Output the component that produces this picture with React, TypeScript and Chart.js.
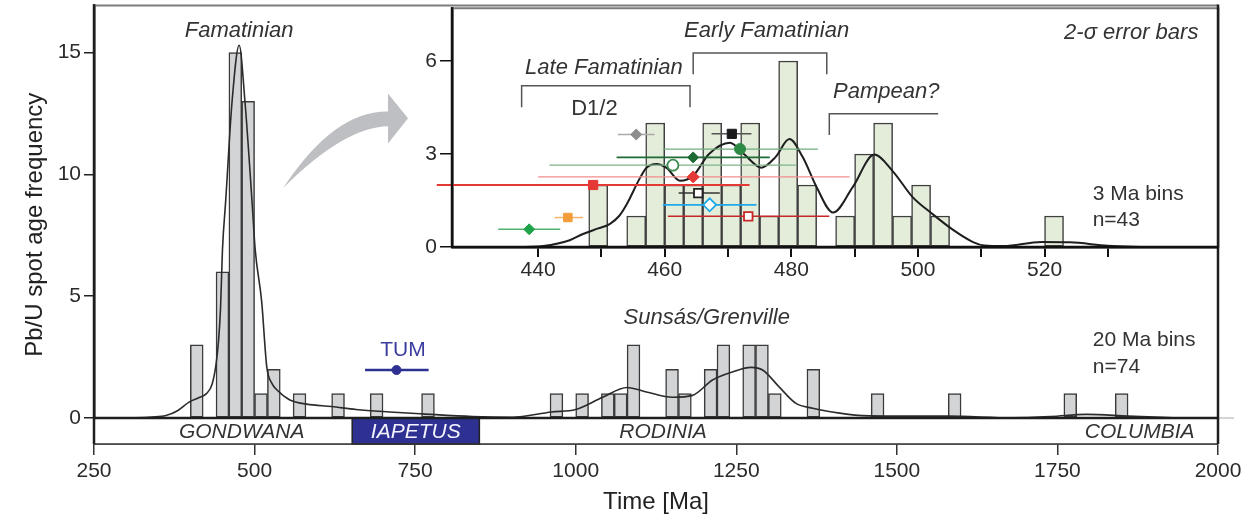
import React, { useEffect, useRef } from 'react';
import { Chart, registerables } from 'chart.js';

Chart.register(...registerables);

const W = 1253;
const H = 520;
const FONT = '"Liberation Sans", Arial, Helvetica, sans-serif';
const INK = '#2b2b2b';
const NAVY = '#2E3192';

// ---------------- Main histogram (20 Ma bins) ----------------
const mainBinStart = [400, 440, 460, 480, 500, 520, 560, 620, 680, 760, 960, 1000, 1040, 1060, 1080, 1140, 1160, 1200, 1220, 1260, 1280, 1300, 1360, 1460, 1580, 1760, 1840];
const mainCounts = [3, 6, 15, 13, 1, 2, 1, 1, 1, 1, 1, 1, 1, 1, 3, 2, 1, 2, 3, 3, 3, 1, 2, 1, 1, 1, 1];
const MAIN_BIN = 20;

const mainKdeAge = [300, 340, 362, 380, 398, 412, 425, 434, 440, 444, 447, 450, 455, 465, 476, 485, 496, 501, 511, 519, 527, 535, 555, 581, 620, 658, 710, 761, 839, 901, 962, 1000, 1042, 1080, 1110, 1151, 1182, 1213, 1245, 1273, 1291, 1317, 1343, 1369, 1411, 1447, 1500, 1580, 1680, 1740, 1795, 1860, 1940];
const mainKdeValue = [0, 0.04, 0.1, 0.3, 0.65, 0.82, 1.0, 1.4, 2.2, 3.2, 4.5, 6.9, 8.9, 13.0, 15.3, 13.0, 8.9, 6.9, 4.8, 2.1, 1.42, 1.15, 0.74, 0.57, 0.47, 0.35, 0.25, 0.17, 0.06, 0.03, 0.25, 0.35, 0.85, 1.25, 1.07, 0.85, 0.93, 1.56, 1.9, 2.08, 1.97, 1.27, 0.6, 0.4, 0.2, 0.1, 0.08, 0.08, 0.01, 0.06, 0.15, 0.08, 0];

const mainXTicks = [250, 500, 750, 1000, 1250, 1500, 1750, 2000];
const mainYTicks = [0, 5, 10, 15];

// TUM age with error
const tumAge = 721;
const tumLow = 672;
const tumHigh = 771;
const tumY = 1.97;

// Supercontinent / ocean band
const regionNames = ['GONDWANA', 'IAPETUS', 'RODINIA', 'COLUMBIA'];
const regionLabelAge = [480, 751, 1136, 1878];
const iapetusRange = [652, 850];

// Main annotations
const mainNotes = ['Famatinian', 'Sunsás/Grenville'];
const mainNoteAge = [476, 1204];
const mainNoteVal = [15.9, 4.1];
const mainBinNote = ['20 Ma bins', 'n=74'];
const mainBinNoteAge = 1805;
const mainBinNoteVal = [3.2, 2.1];

// Curved arrow (tail, upper ctrl, shaft-upper, head-top, tip, head-bottom, shaft-lower, lower ctrl)
const arrowAge = [544.3, 623.7, 707.7, 707.7, 738.9, 707.7, 707.7, 639.2];
const arrowVal = [9.43, 12.62, 12.58, 13.32, 12.3, 11.27, 11.97, 11.93];

// ---------------- Inset histogram (3 Ma bins) ----------------
const insetBinStart = [448, 454, 457, 460, 463, 466, 469, 472, 475, 478, 481, 487, 490, 493, 496, 499, 502, 520];
const insetCounts = [2, 1, 4, 2, 2, 4, 2, 4, 1, 6, 2, 1, 3, 4, 1, 2, 1, 1];
const INSET_BIN = 3;

const insetKdeAge = [438, 440.8, 445, 447.1, 449.5, 451.3, 452.8, 454, 456.1, 457.1, 458.7, 460.3, 462.4, 464.5, 467, 470.3, 472.5, 475.3, 477.5, 479.7, 481.8, 484, 486.6, 489.7, 493.1, 496, 499.2, 502.2, 505.5, 508.7, 510.5, 513.5, 519.5, 524, 530, 536];
const insetKdeValue = [0, 0.03, 0.22, 0.42, 0.6, 0.74, 1.0, 1.38, 2.23, 2.55, 2.68, 2.55, 2.14, 2.3, 3.0, 3.36, 3.0, 2.56, 2.9, 3.48, 2.9, 1.93, 1.11, 1.93, 2.98, 2.45, 1.6, 1.08, 0.56, 0.16, 0.05, 0.03, 0.16, 0.15, 0.04, 0];

const insetXTicks = [440, 450, 460, 470, 480, 490, 500, 510, 520, 530];
const insetYTicks = [0, 3, 6];

// Individual dated samples with 2-sigma errors
const ptAge = [438.6, 444.7, 448.7, 455.5, 461.3, 464.5, 464.5, 465.3, 470.6, 471.9, 467.1, 473.2];
const ptLow = [433.7, 442.6, 424.0, 452.6, 441.8, 452.4, 440.0, 462.2, 467.4, 459.7, 459.7, 460.5];
const ptHigh = [443.5, 447.1, 473.4, 458.4, 480.9, 476.6, 489.2, 468.7, 473.7, 484.2, 474.5, 486.0];
const ptY = [0.57, 0.95, 2.0, 3.63, 2.64, 2.89, 2.26, 1.74, 3.65, 3.16, 1.36, 0.99];
const ptShape = ['rectRot', 'rect', 'rect', 'rectRot', 'circle', 'rectRot', 'rectRot', 'rect', 'rect', 'circle', 'rectRot', 'rect'];
const ptColor = ['#1FA34A', '#F39C3A', '#E53935', '#8E8E8E', '#3D8B4F', '#1E6B35', '#E53935', '#222222', '#1a1a1a', '#2E8B45', '#1EA8E8', '#C62828'];
const ptOpen = [false, false, false, false, true, false, false, true, false, false, true, true];
const ptLineColor = ['#4FB36E', '#F5B26B', '#E53935', '#AAAAAA', '#7DB38A', '#1E6B35', '#F28C8C', '#333333', '#555555', '#6FAE7E', '#1EA8E8', '#C62828'];
const ptLineWidth = [1.5, 1.5, 1.8, 1.5, 1.2, 1.8, 1.3, 1.5, 1.5, 1.3, 1.8, 1.5];
const ptRadius = [5.5, 6, 6.5, 5.5, 5.5, 5.5, 6, 6, 6.5, 5.5, 6.5, 6];

// Inset annotations
const insetNotes = ['Early Famatinian', 'Late Famatinian', 'Pampean?', '2-σ error bars'];
const insetNoteAge = [476.1, 450.4, 495.0, 533.7];
const insetNoteVal = [6.96, 5.79, 4.99, 6.92];
const d12Label = 'D1/2';
const d12Age = 448.9;
const d12Val = 4.45;
const insetBinNote = ['3 Ma bins', 'n=43'];
const insetBinNoteAge = 527.6;
const insetBinNoteVal = [1.7, 0.85];
const bracketStart = [464.5, 437.4, 486.0];
const bracketEnd = [485.6, 464.0, 503.2];
const bracketTop = [6.26, 5.2, 4.3];
const bracketLeg = [5.57, 4.51, 3.61];
const bracketRightLeg = [true, true, false];

function line(ctx: CanvasRenderingContext2D, x1: number, y1: number, x2: number, y2: number, color: string, w: number) {
  ctx.beginPath();
  ctx.strokeStyle = color;
  ctx.lineWidth = w;
  ctx.moveTo(x1, y1);
  ctx.lineTo(x2, y2);
  ctx.stroke();
}

function text(ctx: CanvasRenderingContext2D, s: string, x: number, y: number, size: number, italic: boolean, color: string, align: CanvasTextAlign) {
  ctx.font = `${italic ? 'italic ' : ''}${size}px ${FONT}`;
  ctx.fillStyle = color;
  ctx.textAlign = align;
  ctx.textBaseline = 'middle';
  ctx.fillText(s, x, y);
}

function noPad(s: any) {
  s.paddingTop = 0;
  s.paddingBottom = 0;
  s.paddingLeft = 0;
  s.paddingRight = 0;
}

const mainDecor = {
  id: 'mainDecor',
  beforeDatasetsDraw(chart: any) {
    const { ctx, chartArea: a, scales } = chart;
    const x = scales.x;
    const y = scales.y;
    const y0 = y.getPixelForValue(0);
    const yb = a.bottom;
    ctx.save();
    ctx.fillStyle = '#ffffff';
    ctx.fillRect(a.left, y0, a.right - a.left, yb - y0);
    const i0 = x.getPixelForValue(iapetusRange[0]);
    const i1 = x.getPixelForValue(iapetusRange[1]);
    ctx.fillStyle = NAVY;
    ctx.fillRect(i0, y0, i1 - i0, yb - y0);
    ctx.lineWidth = 1.5;
    ctx.strokeStyle = '#222';
    ctx.strokeRect(i0, y0, i1 - i0, yb - y0);
    regionNames.forEach((n, i) => {
      text(ctx, n, x.getPixelForValue(regionLabelAge[i]), (y0 + yb) / 2 + 1, 21, true, i === 1 ? '#f4f4ff' : '#333', 'center');
    });
    ctx.restore();
  },
  afterDatasetsDraw(chart: any) {
    const { ctx, chartArea: a, scales } = chart;
    const x = scales.x;
    const y = scales.y;
    const y0 = y.getPixelForValue(0);
    ctx.save();
    // frame
    line(ctx, a.right, y0, a.right + 16, y0, '#aaaaaa', 1);
    line(ctx, a.left, y0, a.right, y0, '#1e1e1e', 2.5);
    line(ctx, a.left, a.bottom, a.right, a.bottom, '#333', 1.5);
    line(ctx, a.left, a.top, a.right, a.top, '#7d7d7d', 2);
    line(ctx, a.left, a.top - 1, a.left, a.bottom, '#1e1e1e', 2.5);
    line(ctx, a.right, a.top - 1, a.right, a.bottom, '#1e1e1e', 2.5);

    // arrow
    const px = (i: number) => x.getPixelForValue(arrowAge[i]);
    const py = (i: number) => y.getPixelForValue(arrowVal[i]);
    ctx.beginPath();
    ctx.moveTo(px(0), py(0));
    ctx.quadraticCurveTo(px(1), py(1), px(2), py(2));
    ctx.lineTo(px(3), py(3));
    ctx.lineTo(px(4), py(4));
    ctx.lineTo(px(5), py(5));
    ctx.lineTo(px(6), py(6));
    ctx.quadraticCurveTo(px(7), py(7), px(0), py(0));
    ctx.closePath();
    ctx.fillStyle = '#BEBFC2';
    ctx.fill();

    // annotations
    mainNotes.forEach((s, i) => {
      text(ctx, s, x.getPixelForValue(mainNoteAge[i]), y.getPixelForValue(mainNoteVal[i]), 22, true, '#333', 'center');
    });
    mainBinNote.forEach((s, i) => {
      text(ctx, s, x.getPixelForValue(mainBinNoteAge), y.getPixelForValue(mainBinNoteVal[i]), 21, false, '#333', 'left');
    });
    text(ctx, 'TUM', x.getPixelForValue(731), y.getPixelForValue(2.8), 21, false, '#3A3D9E', 'center');
    ctx.restore();
  },
};

const insetDecor = {
  id: 'insetDecor',
  beforeDraw(chart: any) {
    const { ctx, chartArea: a } = chart;
    ctx.save();
    ctx.fillStyle = '#ffffff';
    ctx.fillRect(a.left, a.top, a.right - a.left, a.bottom - a.top);
    ctx.restore();
  },
  afterDraw(chart: any) {
    const { ctx, chartArea: a, scales } = chart;
    const x = scales.x;
    const y = scales.y;
    ctx.save();
    line(ctx, a.left, a.top, a.right, a.top, '#7d7d7d', 2);
    line(ctx, a.right, a.top - 1, a.right, a.bottom + 1, '#1e1e1e', 2.5);
    line(ctx, a.left, a.top - 1, a.left, a.bottom, '#111', 2.5);
    line(ctx, a.left, a.bottom, a.right, a.bottom, '#111', 2.5);
    // brackets
    bracketStart.forEach((s, i) => {
      const x1 = x.getPixelForValue(s);
      const x2 = x.getPixelForValue(bracketEnd[i]);
      const yt = y.getPixelForValue(bracketTop[i]);
      const yl = y.getPixelForValue(bracketLeg[i]);
      ctx.beginPath();
      ctx.strokeStyle = '#555';
      ctx.lineWidth = 1.5;
      ctx.moveTo(x1, yl);
      ctx.lineTo(x1, yt);
      ctx.lineTo(x2, yt);
      if (bracketRightLeg[i]) ctx.lineTo(x2, yl);
      ctx.stroke();
    });
    insetNotes.forEach((s, i) => {
      text(ctx, s, x.getPixelForValue(insetNoteAge[i]), y.getPixelForValue(insetNoteVal[i]), 22, true, '#333', 'center');
    });
    text(ctx, d12Label, x.getPixelForValue(d12Age), y.getPixelForValue(d12Val), 22, false, '#333', 'center');
    insetBinNote.forEach((s, i) => {
      text(ctx, s, x.getPixelForValue(insetBinNoteAge), y.getPixelForValue(insetBinNoteVal[i]), 21, false, '#333', 'left');
    });
    ctx.restore();
  },
};

const tickFont = { family: FONT, size: 21 };

function mainConfig(): any {
  const bars = mainBinStart.map((s, i) => ({ x: s + MAIN_BIN / 2, y: mainCounts[i] }));
  const kde = mainKdeAge.map((a, i) => ({ x: a, y: mainKdeValue[i] }));
  return {
    type: 'bar',
    data: {
      datasets: [
        { type: 'scatter', data: [{ x: tumAge, y: tumY }], pointStyle: 'circle', pointRadius: 4.5, backgroundColor: NAVY, borderColor: NAVY, order: 0 },
        { type: 'line', data: [{ x: tumLow, y: tumY }, { x: tumHigh, y: tumY }], borderColor: NAVY, borderWidth: 2.5, pointRadius: 0, order: 1 },
        { type: 'line', data: kde, borderColor: INK, borderWidth: 1.6, pointRadius: 0, cubicInterpolationMode: 'monotone', fill: false, order: 2 },
        { type: 'bar', data: bars, backgroundColor: '#D3D4D6', borderColor: '#3a3a3a', borderWidth: 1.5, borderSkipped: false, barPercentage: 1, categoryPercentage: 1, order: 5 },
      ],
    },
    options: {
      responsive: false,
      animation: false,
      events: [],
      layout: { padding: { left: 0, right: 35, top: 5, bottom: 0 } },
      plugins: { legend: { display: false }, tooltip: { enabled: false } },
      scales: {
        x: {
          type: 'linear', min: 250, max: 2000, offset: false,
          afterBuildTicks: (s: any) => { s.ticks = mainXTicks.map((v) => ({ value: v })); },
          afterFit: (s: any) => { s.height = 76; noPad(s); },
          grid: { display: true, offset: false, drawOnChartArea: false, drawTicks: true, tickLength: 11, color: '#333', lineWidth: 1.5 },
          border: { display: true, color: '#333', width: 1.5 },
          ticks: { font: tickFont, color: INK, padding: 4, maxRotation: 0, autoSkip: false, callback: (v: any) => String(v) },
          title: { display: true, text: 'Time [Ma]', font: { family: FONT, size: 24 }, color: '#222', padding: { top: 0, bottom: 3 } },
        },
        y: {
          type: 'linear', min: -1.066, max: 16.93,
          afterBuildTicks: (s: any) => { s.ticks = mainYTicks.map((v) => ({ value: v })); },
          afterFit: (s: any) => { s.width = 94; noPad(s); },
          grid: { display: true, drawOnChartArea: false, drawTicks: true, tickLength: 10, color: '#222', lineWidth: 1.5 },
          border: { display: true, color: '#1e1e1e', width: 2.5 },
          ticks: { font: tickFont, color: INK, padding: 3, autoSkip: false, callback: (v: any) => String(v) },
          title: { display: true, text: 'Pb/U spot age frequency', font: { family: FONT, size: 24 }, color: '#222', padding: { top: 21, bottom: 0 } },
        },
      },
    },
    plugins: [mainDecor],
  };
}

function insetConfig(): any {
  const bars = insetBinStart.map((s, i) => ({ x: s + INSET_BIN / 2, y: insetCounts[i] }));
  const kde = insetKdeAge.map((a, i) => ({ x: a, y: insetKdeValue[i] }));
  const errLines = ptAge.map((_, i) => ({
    type: 'line',
    data: [{ x: ptLow[i], y: ptY[i] }, { x: ptHigh[i], y: ptY[i] }],
    borderColor: ptLineColor[i],
    borderWidth: ptLineWidth[i],
    pointRadius: 0,
    clip: false,
    order: 4,
  }));
  const markers = ptAge.map((a, i) => ({
    type: 'scatter',
    data: [{ x: a, y: ptY[i] }],
    pointStyle: ptShape[i],
    pointRadius: ptRadius[i],
    backgroundColor: ptOpen[i] ? '#ffffff' : ptColor[i],
    borderColor: ptColor[i],
    borderWidth: ptOpen[i] ? 1.8 : 1,
    clip: false,
    order: 1,
  }));
  return {
    type: 'bar',
    data: {
      datasets: [
        { type: 'bar', data: bars, backgroundColor: '#E3EDDA', borderColor: '#3f3f3f', borderWidth: 1.5, borderSkipped: false, barPercentage: 1, categoryPercentage: 1, order: 10 },
        { type: 'line', data: kde, borderColor: '#1e1e1e', borderWidth: 2, pointRadius: 0, cubicInterpolationMode: 'monotone', fill: false, order: 6 },
        ...errLines,
        ...markers,
      ],
    },
    options: {
      responsive: false,
      animation: false,
      events: [],
      layout: { padding: { left: 402, right: 35, top: 5, bottom: 0 } },
      plugins: { legend: { display: false }, tooltip: { enabled: false } },
      scales: {
        x: {
          type: 'linear', min: 426.4, max: 547.4, offset: false,
          afterBuildTicks: (s: any) => { s.ticks = insetXTicks.map((v) => ({ value: v })); },
          afterFit: (s: any) => { s.height = 273; noPad(s); },
          grid: { display: true, offset: false, drawOnChartArea: false, drawTicks: true, tickLength: 10, color: '#111', lineWidth: 2 },
          border: { display: true, color: '#111', width: 2.5 },
          ticks: { font: tickFont, color: INK, padding: 1, maxRotation: 0, autoSkip: false, callback: (v: any) => (Number(v) % 20 === 0 ? String(v) : '') },
        },
        y: {
          type: 'linear', min: 0, max: 7.7,
          afterBuildTicks: (s: any) => { s.ticks = insetYTicks.map((v) => ({ value: v })); },
          afterFit: (s: any) => { s.width = 50; noPad(s); },
          grid: { display: true, drawOnChartArea: false, drawTicks: true, tickLength: 12, color: '#111', lineWidth: 1.5 },
          border: { display: true, color: '#111', width: 2.5 },
          ticks: { font: tickFont, color: INK, padding: 3, autoSkip: false, callback: (v: any) => String(v) },
        },
      },
    },
    plugins: [insetDecor],
  };
}

export default function App() {
  const mainRef = useRef<HTMLCanvasElement>(null);
  const insetRef = useRef<HTMLCanvasElement>(null);
  useEffect(() => {
    const main = new Chart(mainRef.current as HTMLCanvasElement, mainConfig());
    const inset = new Chart(insetRef.current as HTMLCanvasElement, insetConfig());
    return () => {
      main.destroy();
      inset.destroy();
    };
  }, []);
  return (
    <div style={{ position: 'absolute', left: 0, top: 0, width: W, height: H, background: '#ffffff' }}>
      <canvas ref={mainRef} width={W} height={H} style={{ position: 'absolute', left: 0, top: 0 }} />
      <canvas ref={insetRef} width={W} height={H} style={{ position: 'absolute', left: 0, top: 0 }} />
    </div>
  );
}
